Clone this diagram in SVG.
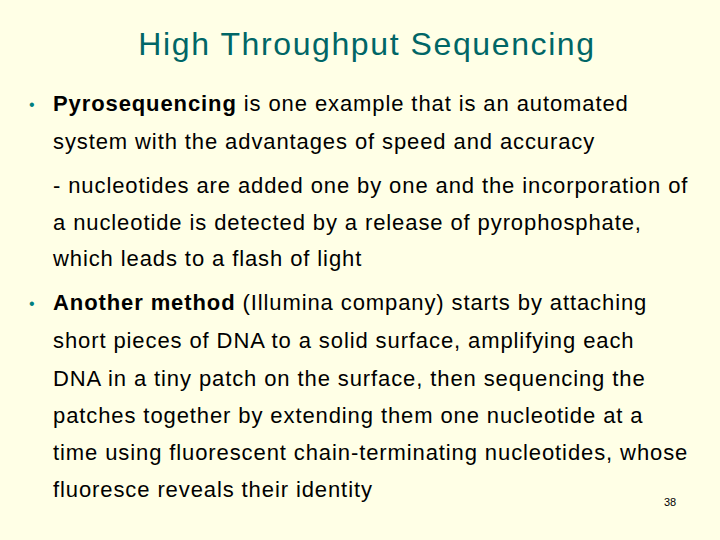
<svg xmlns="http://www.w3.org/2000/svg" width="720" height="540" viewBox="0 0 720 540">
<style>
.t{font-family:"Liberation Sans",Arial,sans-serif;font-size:22px;letter-spacing:0.9px;fill:#000}
.b{font-family:"Liberation Sans",Arial,sans-serif;font-size:16px;fill:#008080}
</style>
<rect width="720" height="540" fill="#FFFFE6"/>
<text x="367" y="55" text-anchor="middle" font-family="Liberation Sans,Arial,sans-serif" font-size="32" letter-spacing="1.6" fill="#006666">High Throughput Sequencing</text>
<text class="b" x="29" y="110">•</text>
<text class="t" x="53" y="111"><tspan font-weight="bold">Pyrosequencing</tspan> is one example that is an automated</text>
<text class="t" x="53" y="149">system with the advantages of speed and accuracy</text>
<text class="t" x="53" y="193">- nucleotides are added one by one and the incorporation of</text>
<text class="t" x="53" y="230">a nucleotide is detected by a release of pyrophosphate,</text>
<text class="t" x="53" y="266">which leads to a flash of light</text>
<text class="b" x="29" y="309">•</text>
<text class="t" x="53" y="310"><tspan font-weight="bold">Another method</tspan> (Illumina company) starts by attaching</text>
<text class="t" x="53" y="348">short pieces of DNA to a solid surface, amplifying each</text>
<text class="t" x="53" y="386">DNA in a tiny patch on the surface, then sequencing the</text>
<text class="t" x="53" y="423">patches together by extending them one nucleotide at a</text>
<text class="t" x="53" y="460">time using fluorescent chain-terminating nucleotides, whose</text>
<text class="t" x="53" y="497">fluoresce reveals their identity</text>
<text x="664" y="506" font-family="Liberation Sans,Arial,sans-serif" font-size="11" fill="#000">38</text>
</svg>
